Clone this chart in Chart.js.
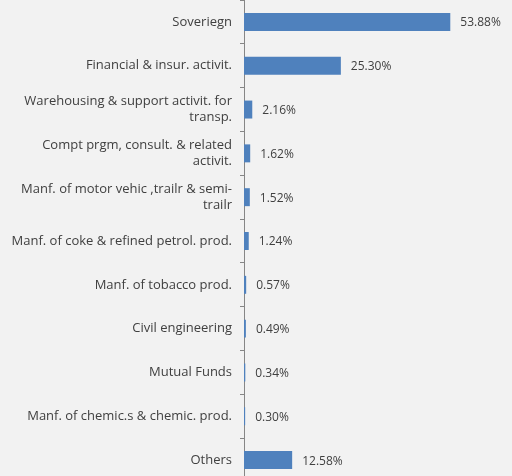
<!DOCTYPE html>
<html>
<head>
<meta charset="utf-8">
<script src="https://cdn.jsdelivr.net/npm/chart.js@4/dist/chart.umd.min.js"></script>
<style>
    html, body {
        margin: 0;
        padding: 0;
        background: #f2f2f2;
        overflow: hidden;
    }
    .chart-box {
        width: 512px;
        height: 482px;
    }
</style>
</head>
<body>
<div class="chart-box">
    <canvas id="sectorChart" width="512" height="482"></canvas>
</div>
<script>
const sectors = [
    "Soveriegn",
    "Financial & insur. activit.",
    ["Warehousing & support activit. for", "transp."],
    ["Compt prgm, consult. & related", "activit."],
    ["Manf. of motor vehic ,trailr & semi-", "trailr"],
    "Manf. of coke & refined petrol. prod.",
    "Manf. of tobacco prod.",
    "Civil engineering",
    "Mutual Funds",
    "Manf. of chemic.s & chemic. prod.",
    "Others"
];

const shares = [53.88, 25.30, 2.16, 1.62, 1.52, 1.24, 0.57, 0.49, 0.34, 0.30, 12.58];

const textColor = "#404040";
const axisColor = "#868686";
const fontFamily = "'Open Sans', 'DejaVu Sans', sans-serif";

// writes the percentage just past the end of each bar
const valueLabels = {
    id: "valueLabels",
    afterDatasetsDraw(chart) {
        const ctx = chart.ctx;
        const meta = chart.getDatasetMeta(0);
        ctx.save();
        ctx.font = `12px ${fontFamily}`;
        ctx.fillStyle = textColor;
        ctx.textAlign = "left";
        ctx.textBaseline = "middle";
        meta.data.forEach((bar, i) => {
            ctx.fillText(shares[i].toFixed(2) + "%", bar.x + 10, bar.y + 1);
        });
        ctx.restore();
    }
};

new Chart(document.getElementById("sectorChart"), {
    type: "bar",
    data: {
        labels: sectors,
        datasets: [{
            data: shares,
            backgroundColor: "#4f81bd",
            borderWidth: 0,
            categoryPercentage: 1,
            barPercentage: 0.41
        }]
    },
    options: {
        indexAxis: "y",
        responsive: false,
        animation: false,
        layout: {
            padding: 0
        },
        plugins: {
            legend: { display: false },
            tooltip: { enabled: false }
        },
        scales: {
            x: {
                display: false,
                min: 0,
                max: 70
            },
            y: {
                afterFit(scale) {
                    // fixed label column, no extra room above the first or below the last row
                    scale.width = 244;
                    scale.paddingTop = 0;
                    scale.paddingBottom = 0;
                },
                border: {
                    color: axisColor,
                    width: 1
                },
                grid: {
                    offset: true,
                    drawOnChartArea: false,
                    color: axisColor,
                    tickLength: 4
                },
                ticks: {
                    color: textColor,
                    padding: 8,
                    font: {
                        family: fontFamily,
                        size: 13,
                        lineHeight: 1.23
                    }
                }
            }
        }
    },
    plugins: [valueLabels]
});
</script>
</body>
</html>
